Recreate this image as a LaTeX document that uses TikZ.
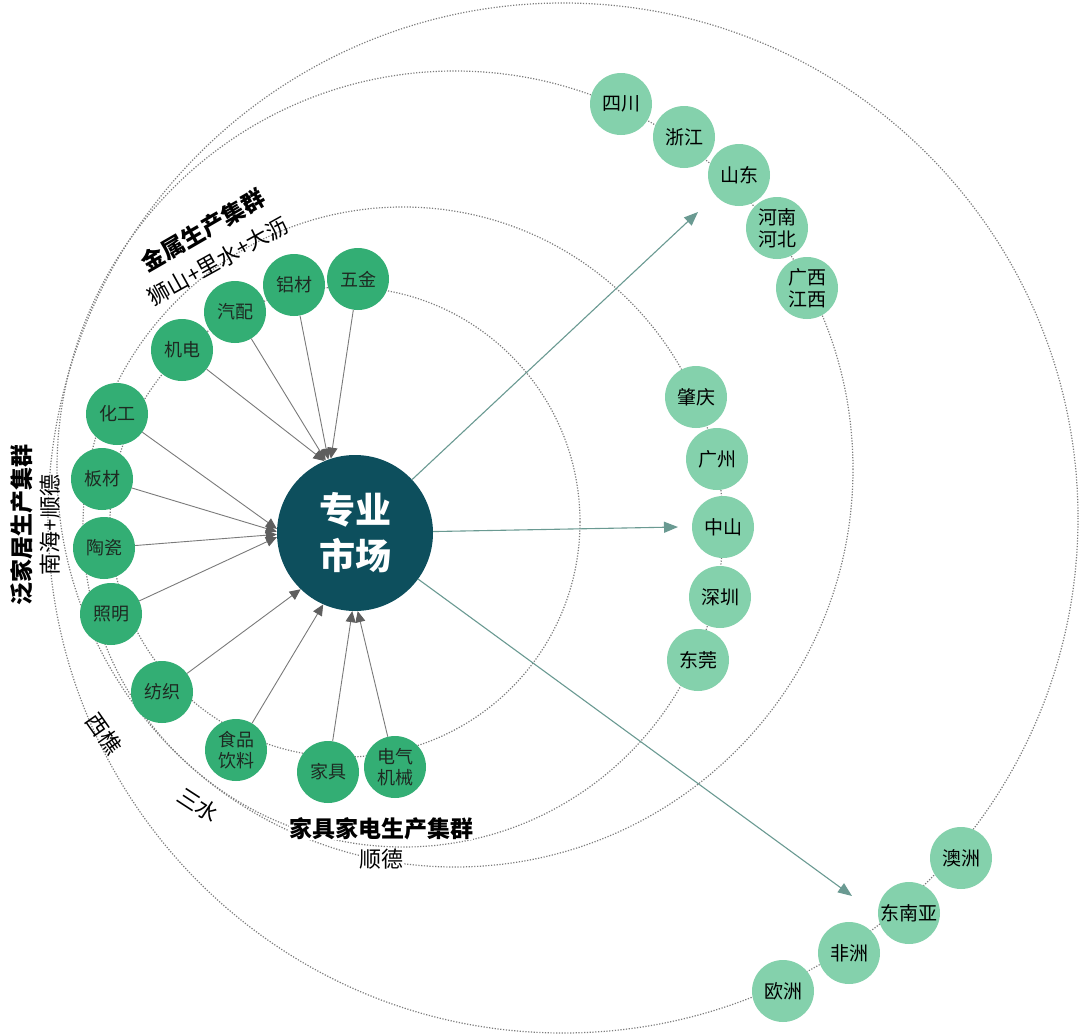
\documentclass[tikz,border=0pt]{standalone}
\usepackage{fontspec}
\setmainfont{Noto Sans CJK SC}
\usetikzlibrary{arrows.meta}
\definecolor{prodg}{HTML}{33AE74}
\definecolor{lightg}{HTML}{84D1AC}
\definecolor{coreb}{HTML}{0D4F5D}
\definecolor{ringgray}{HTML}{7C7C7C}
\definecolor{parrow}{HTML}{7A7A7A}
\definecolor{parrowhead}{HTML}{5E5E5E}
\definecolor{oarrow}{HTML}{6A9A92}
\definecolor{prodtext}{HTML}{1E2A22}
\begin{document}
\begin{tikzpicture}[x=1pt,y=-1pt,
  ring/.style={draw=ringgray, line width=1.2pt, dash pattern=on 1.2pt off 1.6pt},
  prod/.style={circle, fill=prodg, minimum size=62pt, inner sep=0pt, text=prodtext, align=center, font=\fontsize{18}{21}\selectfont},
  place/.style={circle, fill=lightg, minimum size=62pt, inner sep=0pt, text=black, align=center, font=\fontsize{19}{22}\selectfont},
  core/.style={circle, fill=coreb, minimum size=156pt, inner sep=0pt, text=white, align=center, font=\fontsize{36}{46}\selectfont\bfseries},
  parr/.style={draw=parrow, line width=0.9pt, -{Triangle[length=11pt,width=10pt,color=parrowhead]}},
  oarr/.style={draw=oarrow, line width=1.1pt, -{Triangle[length=14pt,width=11pt,color=oarrow]}},
  lab/.style={inner sep=0pt, font=\fontsize{22}{26}\selectfont},
  labb/.style={inner sep=0pt, font=\fontsize{23}{26}\selectfont\bfseries}
]
\useasboundingbox (0,0) rectangle (1080,1036);
\fill[white] (0,0) rectangle (1080,1036);

% dotted rings
\draw[ring] (563,518) circle[radius=515];
\draw[ring] (455,469) circle[radius=398];
\draw[ring] (403,527) circle[radius=320];
\draw[ring] (345,522) circle[radius=235];

% labels
\node[labb, rotate=30] (l1) at (203,230) {金属生产集群};
\node[lab, rotate=29] (l2) at (218,261) {狮山+里水+大沥};
\node[labb, rotate=90] (l3) at (22,525) {泛家居生产集群};
\node[lab, rotate=90] (l4) at (50,525) {南海+顺德};
\node[lab, rotate=-55] (l5) at (104,734) {西樵};
\node[lab, rotate=-33] (l6) at (198,805) {三水};
\node[labb, fill=white] (l7) at (381,829) {家具家电生产集群};
\node[lab, fill=white] (l8) at (381,859) {顺德};

% core
\node[core] (sc) at (355,533) {专业\\市场};

% product nodes
\node[prod] (wj) at (358,279) {五金};
\node[prod] (lc) at (294,285) {铝材};
\node[prod] (qp) at (235,312) {汽配};
\node[prod] (jd) at (182,350) {机电};
\node[prod] (hg) at (117,414) {化工};
\node[prod] (bc) at (102,479) {板材};
\node[prod] (tc) at (104,548) {陶瓷};
\node[prod] (zm) at (111,614) {照明};
\node[prod] (fzh) at (162,692) {纺织};
\node[prod] (sp) at (236,750) {食品\\饮料};
\node[prod] (jj) at (328,772) {家具};
\node[prod] (dq) at (395,767) {电气\\机械};

% provinces
\node[place] (scn) at (621,104) {四川};
\node[place] (zj) at (684,137) {浙江};
\node[place] (sd) at (739,175) {山东};
\node[place] (hn) at (777,228) {河南\\河北};
\node[place] (gx) at (807,288) {广西\\江西};
% cities
\node[place] (zq) at (696,397) {肇庆};
\node[place] (gz) at (717,459) {广州};
\node[place] (zs) at (723,527) {中山};
\node[place] (szh) at (720,597) {深圳};
\node[place] (dg) at (698,660) {东莞};
% international
\node[place] (az) at (961,858) {澳洲};
\node[place] (dny) at (909,913) {东南亚};
\node[place] (fzz) at (849,953) {非洲};
\node[place] (oz) at (783,991) {欧洲};

% product arrows into core
\draw[parr] (jd) -- (sc.113);
\draw[parr] (qp) -- (sc.112);
\draw[parr] (lc) -- (sc.110);
\draw[parr] (wj) -- (sc.108);
\draw[parr] (hg) -- (sc.177);
\draw[parr] (bc) -- (sc.179);
\draw[parr] (tc) -- (sc.181);
\draw[parr] (zm) -- (sc.183);
\draw[parr] (fzh) -- (sc.226);
\draw[parr] (sp) -- (sc.246);
\draw[parr] (jj) -- (sc.268);
\draw[parr] (dq) -- (sc.272);

% outgoing arrows
\coordinate (e1) at (698,212);
\coordinate (e2) at (678,527);
\coordinate (e3) at (852,896);
\draw[oarr] (sc) -- (e1);
\draw[oarr] (sc) -- (e2);
\draw[oarr] (sc) -- (e3);
\end{tikzpicture}
\end{document}
